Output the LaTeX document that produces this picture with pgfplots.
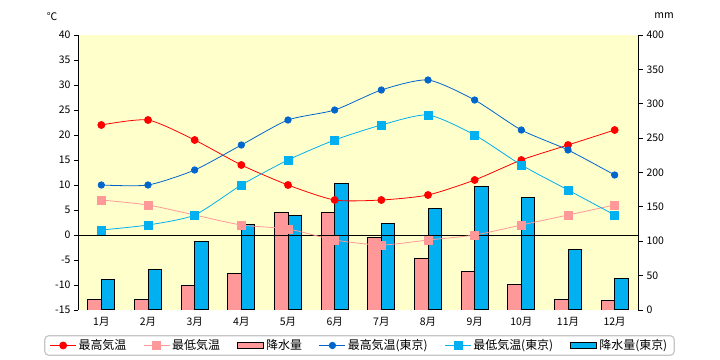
\documentclass[border=0pt]{standalone}
\usepackage{pgfplots}
\pgfplotsset{compat=1.18}
\usepackage{fontspec}
\setmainfont{Noto Sans CJK JP}
\definecolor{bgy}{HTML}{FFFFCC}
\definecolor{cred}{HTML}{FF0000}
\definecolor{cpink}{HTML}{FF9999}
\definecolor{cblue}{HTML}{0066CC}
\definecolor{ccyan}{HTML}{00B0F0}
\pgfplotsset{
  barlegend/.style={legend image code/.code={\draw[sharp corners,##1] (0bp,-3bp) rectangle (26bp,3bp);}},
  linelegend/.style={legend image code/.code={\draw[sharp corners,mark repeat=2,mark phase=2,##1] plot coordinates {(0bp,0bp) (13bp,0bp) (26bp,0bp)};}},
}
\begin{document}
\begin{tikzpicture}
\path[use as bounding box] (0,0) rectangle (720bp,360bp);
\node[font=\fontsize{10.5}{12}\selectfont] at (52bp,343bp) {℃};
\node[font=\fontsize{10.5}{12}\selectfont] at (664bp,344bp) {mm};
\begin{axis}[
  at={(78bp,50bp)}, anchor=south west,
  scale only axis, width=560bp, height=275bp,
  xmin=0.5, xmax=12.5, ymin=0, ymax=400,
  axis background/.style={fill=bgy},
  axis x line=none, axis y line*=right,
  y axis line style={-, black, line width=0.8bp},
  ytick={0,50,...,400},
  tick align=outside, major tick length=5bp,
  ytick style={black, line width=0.8bp},
  yticklabel style={font=\fontsize{10.5}{12}\selectfont, anchor=west},
  /pgf/number format/assume math mode=true,
  ybar, bar width=13.5bp,
]
\addplot[fill=cpink, draw=black, line width=0.8bp, bar shift=-6.75bp] coordinates {
(1,15.5) (2,15.5) (3,36) (4,53) (5,142) (6,142) (7,106) (8,75) (9,56) (10,37) (11,15.5) (12,14)};
\addplot[fill=ccyan, draw=black, line width=1bp, bar shift=6.75bp] coordinates {
(1,45) (2,59) (3,100) (4,125) (5,138) (6,184) (7,126) (8,148) (9,180) (10,164) (11,88) (12,46)};
\end{axis}
\begin{axis}[
  at={(78bp,50bp)}, anchor=south west,
  scale only axis, width=560bp, height=275bp,
  xmin=0.5, xmax=12.5, ymin=-15, ymax=40,
  axis y line*=left, axis x line*=bottom,
  x axis line style={draw=none},
  y axis line style={-, black, line width=0.8bp},
  xtick={1,...,12},
  xticklabels={1月,2月,3月,4月,5月,6月,7月,8月,9月,10月,11月,12月},
  xtick style={draw=none},
  xticklabel style={font=\fontsize{10.5}{12}\selectfont},
  ytick={-15,-10,...,40},
  tick align=outside, major tick length=4bp,
  ytick style={black, line width=0.8bp},
  yticklabel style={font=\fontsize{10.5}{12}\selectfont},
  /pgf/number format/assume math mode=true,
  legend columns=6,
  legend style={at={(0.5027,-0.129)}, anchor=center,
    draw=gray!45, rounded corners=4bp, line width=1.2bp,
    inner xsep=5bp, inner ysep=2bp,
    font=\fontsize{12}{14}\selectfont,
    /tikz/every even column/.append style={column sep=15bp}},
  linelegend,
]
\addplot[black, line width=0.8bp, forget plot] coordinates {(0.5,0) (12.5,0)};
\addplot[cred, line width=0.8bp, smooth, tension=0.4, mark=*, mark size=3.5bp, mark options={solid, fill=cred, draw=cred}] coordinates {
(1,22) (2,23) (3,19) (4,14) (5,10) (6,7) (7,7) (8,8) (9,11) (10,15) (11,18) (12,21)};
\addlegendentry{最高気温}
\addplot[cpink, line width=0.8bp, smooth, tension=0.4, mark=square*, mark size=4bp, mark options={solid, fill=cpink, draw=cpink}] coordinates {
(1,7) (2,6) (3,4) (4,2) (5,1.2) (6,-1) (7,-2) (8,-1) (9,0) (10,2) (11,4) (12,6)};
\addlegendentry{最低気温}
\addlegendimage{barlegend, fill=cpink, draw=black, line width=1.2bp}
\addlegendentry{降水量}
\addplot[cblue, line width=0.8bp, smooth, tension=0.4, mark=*, mark size=3.2bp, mark options={solid, fill=cblue, draw=cblue}] coordinates {
(1,10) (2,10) (3,13) (4,18) (5,23) (6,25) (7,29) (8,31) (9,27) (10,21) (11,17) (12,12)};
\addlegendentry{最高気温(東京)}
\addplot[ccyan, line width=0.8bp, smooth, tension=0.4, mark=square*, mark size=4bp, mark options={solid, fill=ccyan, draw=ccyan}] coordinates {
(1,1) (2,2) (3,4) (4,10) (5,15) (6,19) (7,22) (8,24) (9,20) (10,14) (11,9) (12,4)};
\addlegendentry{最低気温(東京)}
\addlegendimage{barlegend, fill=ccyan, draw=black, line width=1.2bp}
\addlegendentry{降水量(東京)}
\end{axis}
\end{tikzpicture}
\end{document}
